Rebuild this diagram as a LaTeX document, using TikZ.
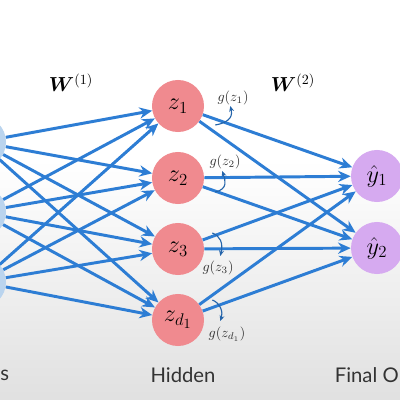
\documentclass[tikz,border=0pt]{standalone}
\usepackage{amsmath, amssymb}
\usepackage{bm}
\usepackage{fontspec}
\setsansfont{Lato}
\usepackage{xcolor}
\usetikzlibrary{arrows.meta, positioning, calc}
\definecolor{wblue}{RGB}{45,125,212}
\definecolor{inblue}{RGB}{186,212,238}
\definecolor{hidpink}{RGB}{240,138,143}
\definecolor{outpurple}{RGB}{214,170,240}

\begin{document}
\begin{tikzpicture}[x=0.025cm, y=-0.025cm,
        unit/.style={circle, inner sep=0pt, minimum size=1.3cm, fill=#1, font=\LARGE},
        weight/.style={-{Stealth[length=9pt, width=8pt]}, line width=2.1pt, wblue},
        act/.style={-{Stealth[length=4pt, width=3.5pt]}, line width=0.8pt, wblue!80!black},
        actlabel/.style={font=\normalsize, text=black!80},
        layer/.style={font=\sffamily\Large, text=black!80}
    ]
        % Background
        \useasboundingbox (0,0) rectangle (400,400);
        \clip (0,0) rectangle (400,400);
        \fill[white] (0,0) rectangle (400,160);
        \shade[top color=white, bottom color=black!12] (0,160) rectangle (400,400);

        % Inputs
        \node[unit=inblue] (x1) at (-20,142) {};
        \node[unit=inblue] (x2) at (-20,212) {};
        \node[unit=inblue] (x3) at (-20,282) {};

        % Hidden
        \node[unit=hidpink] (z1) at (178,106) {$z_1$};
        \node[unit=hidpink] (z2) at (178,178) {$z_2$};
        \node[unit=hidpink] (z3) at (178,249) {$z_3$};
        \node[unit=hidpink] (z4) at (178,320) {$z_{d_1}$};

        % Final output
        \node[unit=outpurple] (y1) at (377,176) {$\hat{y}_1$};
        \node[unit=outpurple] (y2) at (377,248) {$\hat{y}_2$};

        % Weights
        \foreach \i in {x1,x2,x3}
            \foreach \j in {z1,z2,z3,z4}
                \draw[weight] (\i) -- (\j);
        \foreach \i in {z1,z2,z3,z4}
            \foreach \j in {y1,y2}
                \draw[weight] (\i) -- (\j);

        \node[font=\Large] (w1) at (71,83) {$\bm{W}^{(1)}$};
        \node[font=\Large] (w2) at (293,83) {$\bm{W}^{(2)}$};

        % Activations
        \draw[act] ($(z1.east)+(11,19)$) .. controls ($(z1.east)+(28,16)$) and ($(z1.east)+(28,8)$) .. ($(z1.east)+(26,0)$);
        \node[actlabel] (g1) at (233,98) {$g(z_1)$};
        \draw[act] ($(z2.east)+(11,14)$) .. controls ($(z2.east)+(24,11)$) and ($(z2.east)+(21,2)$) .. ($(z2.east)+(18,-7)$);
        \node[actlabel] (g2) at (225,162) {$g(z_2)$};
        \draw[act] ($(z3.east)+(8,-16)$) .. controls ($(z3.east)+(16,-13)$) and ($(z3.east)+(19,-6)$) .. ($(z3.east)+(16,7)$);
        \node[actlabel] (g3) at (218,268) {$g(z_3)$};
        \draw[act] ($(z4.east)+(8,-20)$) .. controls ($(z4.east)+(16,-17)$) and ($(z4.east)+(19,-8)$) .. ($(z4.east)+(16,1)$);
        \node[actlabel] (g4) at (227,334) {$g(z_{d_1})$};

        % Layer names
        \node[layer, anchor=west, inner sep=0pt] (lin) at (0,375) {s};
        \node[layer] (lhid) at (183,375) {Hidden};
        \node[layer, anchor=east, inner sep=0pt] (lout) at (399,375) {Final O};
    \end{tikzpicture}
\end{document}
